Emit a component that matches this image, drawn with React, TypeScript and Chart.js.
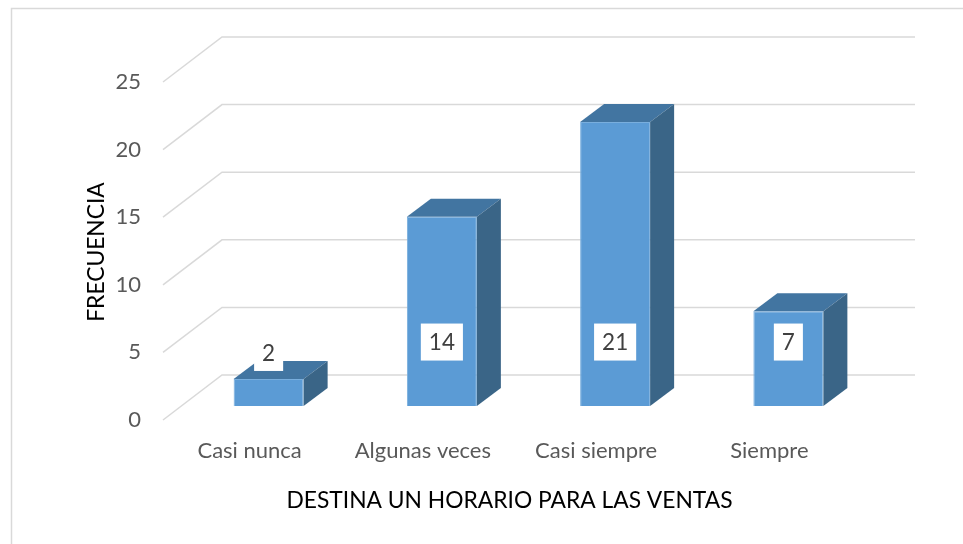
import React, { useEffect, useRef } from 'react';
import { Chart, registerables } from 'chart.js';

Chart.register(...registerables);

// ---- data ----
const categories = ['Casi nunca', 'Algunas veces', 'Casi siempre', 'Siempre'];
const frecuencia = [2, 14, 21, 7];
const yTickValues = [0, 5, 10, 15, 20, 25];
const yAxisTitle = 'FRECUENCIA';
const xAxisTitle = 'DESTINA UN HORARIO PARA LAS VENTAS';

// ---- layout / style ----
const W = 963;
const H = 544;
const PLOT_LEFT = 163;
const PLOT_RIGHT = 856;
const PLOT_TOP = 82;
const PLOT_BOTTOM = 420;
const WALL_DX = 59;
const WALL_DY = -45;
const BAR_DX = 19;
const BAR_DY = -14;
const DEPTH_DX = 24;
const DEPTH_DY = -18;
const LABEL_ANCHOR = 4.73;
const FONT = 'Lato, "Open Sans", sans-serif';
const FRONT = '#5B9BD5';
const TOP = '#4275A1';
const SIDE = '#3A6587';
const GRID = '#D9D9D9';

const sceneryPlugin = {
  id: 'scenery',
  beforeDraw(chart: any) {
    const ctx = chart.ctx;
    const y = chart.scales.y;
    ctx.save();
    ctx.fillStyle = '#ffffff';
    ctx.fillRect(0, 0, W, H);
    // outer border
    ctx.strokeStyle = '#D9D9D9';
    ctx.lineWidth = 1.5;
    ctx.beginPath();
    ctx.moveTo(11.5, H);
    ctx.lineTo(11.5, 8.5);
    ctx.lineTo(W, 8.5);
    ctx.stroke();
    // 3D gridlines
    ctx.strokeStyle = GRID;
    ctx.lineWidth = 1.5;
    yTickValues.forEach((v) => {
      const py = y.getPixelForValue(v);
      ctx.beginPath();
      ctx.moveTo(PLOT_LEFT, py);
      ctx.lineTo(PLOT_LEFT + WALL_DX, py + WALL_DY);
      ctx.lineTo(PLOT_RIGHT + WALL_DX, py + WALL_DY);
      ctx.stroke();
    });
    ctx.restore();
  },
  beforeDatasetsDraw(chart: any) {
    chart.ctx.save();
    chart.ctx.translate(BAR_DX, BAR_DY);
  },
  afterDatasetsDraw(chart: any) {
    const ctx = chart.ctx;
    const meta = chart.getDatasetMeta(0);
    const yScale = chart.scales.y;
    meta.data.forEach((el: any) => {
      const { x, y, base, width } = el.getProps(['x', 'y', 'base', 'width'], true);
      const L = x - width / 2;
      const R = x + width / 2;
      // top face
      ctx.fillStyle = TOP;
      ctx.beginPath();
      ctx.moveTo(L, y);
      ctx.lineTo(R, y);
      ctx.lineTo(R + DEPTH_DX, y + DEPTH_DY);
      ctx.lineTo(L + DEPTH_DX, y + DEPTH_DY);
      ctx.closePath();
      ctx.fill();
      // side face
      ctx.fillStyle = SIDE;
      ctx.beginPath();
      ctx.moveTo(R, y);
      ctx.lineTo(R + DEPTH_DX, y + DEPTH_DY);
      ctx.lineTo(R + DEPTH_DX, base + DEPTH_DY);
      ctx.lineTo(R, base);
      ctx.closePath();
      ctx.fill();
    });
    // data labels
    ctx.font = `22.5px ${FONT}`;
    ctx.textAlign = 'center';
    ctx.textBaseline = 'middle';
    meta.data.forEach((el: any, i: number) => {
      const { x, y } = el.getProps(['x', 'y'], true);
      const text = String(frecuencia[i]);
      const tw = ctx.measureText(text).width;
      const bw = tw + 16;
      const bh = 37;
      const cy = Math.max(yScale.getPixelForValue(LABEL_ANCHOR), y - 8 - bh / 2);
      ctx.fillStyle = '#ffffff';
      ctx.fillRect(x - bw / 2, cy - bh / 2, bw, bh);
      ctx.fillStyle = '#404040';
      ctx.fillText(text, x, cy + 1);
    });
    ctx.restore();
  },
  afterDraw(chart: any) {
    const ctx = chart.ctx;
    ctx.save();
    ctx.fillStyle = '#000000';
    ctx.font = `22.8px ${FONT}`;
    ctx.textAlign = 'center';
    ctx.textBaseline = 'middle';
    ctx.fillText(xAxisTitle, (PLOT_LEFT + PLOT_RIGHT) / 2, 501);
    ctx.translate(96, (PLOT_TOP + PLOT_BOTTOM) / 2 + 1);
    ctx.rotate(-Math.PI / 2);
    ctx.fillText(yAxisTitle, 0, 1);
    ctx.restore();
  },
};

export default function App() {
  const ref = useRef<HTMLCanvasElement>(null);
  useEffect(() => {
    document.body.style.margin = '0';
    const chart = new Chart(ref.current as HTMLCanvasElement, {
      type: 'bar',
      data: {
        labels: categories,
        datasets: [
          {
            data: frecuencia,
            backgroundColor: FRONT,
            borderColor: '#79AEDD',
            borderWidth: 1,
            categoryPercentage: 1,
            barPercentage: 0.404,
          },
        ],
      },
      options: {
        responsive: false,
        animation: false,
        layout: { padding: { top: PLOT_TOP, right: W - PLOT_RIGHT, left: 0, bottom: 0 } },
        plugins: { legend: { display: false }, tooltip: { enabled: false }, title: { display: false } },
        scales: {
          x: {
            grid: { display: false, drawTicks: false },
            border: { display: false },
            ticks: { color: '#595959', font: { family: FONT, size: 22 }, padding: 18, maxRotation: 0, autoSkip: false },
            afterFit: (s: any) => {
              s.height = H - PLOT_BOTTOM;
            },
          },
          y: {
            min: 0,
            max: 25,
            grid: { display: false, drawTicks: false },
            border: { display: false },
            ticks: { stepSize: 5, color: '#595959', font: { family: FONT, size: 22 }, padding: 22 },
            afterFit: (s: any) => {
              s.width = PLOT_LEFT;
            },
          },
        },
      },
      plugins: [sceneryPlugin],
    });
    return () => chart.destroy();
  }, []);
  return <canvas ref={ref} width={W} height={H} style={{ display: 'block' }} />;
}
